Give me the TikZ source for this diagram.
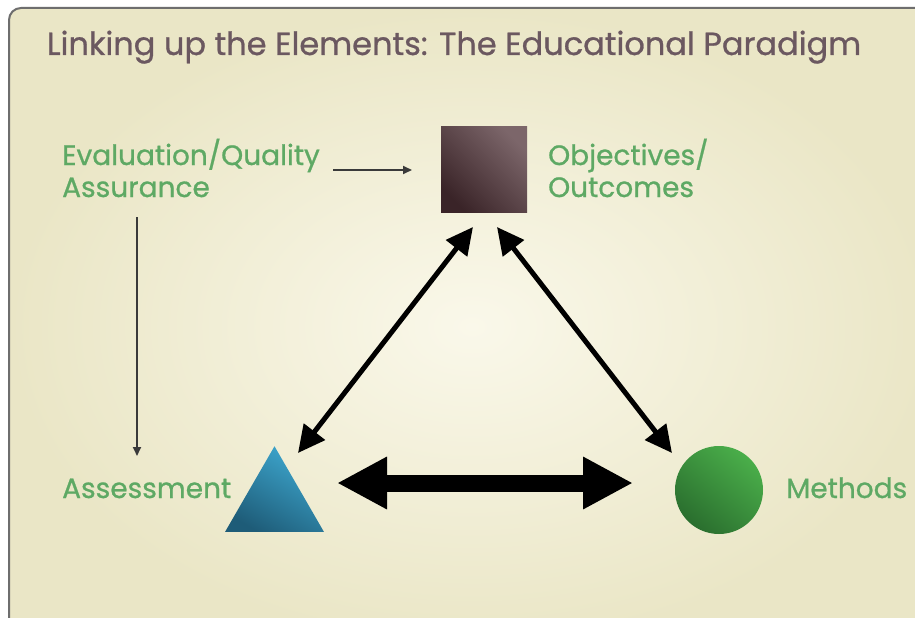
\documentclass[tikz,border=0pt]{standalone}
\usepackage{fontspec}
\setmainfont{Poppins}
\newfontfamily\titlefont[FakeStretch=1.0,FakeBold=0.8]{Poppins}
\newfontfamily\labelfont[FakeStretch=1.0,FakeBold=0.8]{Poppins}
\usetikzlibrary{arrows.meta,shapes.geometric}
\definecolor{bgin}{HTML}{FAF8EA}
\definecolor{bgout}{HTML}{EAE6C6}
\definecolor{frame}{HTML}{6E6E6E}
\definecolor{titlec}{HTML}{6B5860}
\definecolor{labelc}{HTML}{5EA964}
\definecolor{sqlight}{HTML}{7C666A}
\definecolor{sqdark}{HTML}{3A2428}
\definecolor{trilight}{HTML}{3EA8D0}
\definecolor{tridark}{HTML}{1E5C78}
\definecolor{cirlight}{HTML}{4AAE4A}
\definecolor{cirdark}{HTML}{2A6E2E}
\definecolor{thinc}{HTML}{3A3A3A}
\tikzset{
  lbl/.style={font=\labelfont\fontsize{28}{32}\selectfont, text=labelc, inner sep=0pt, anchor=base west},
  thinarrow/.style={draw=thinc, line width=2pt, -{Triangle[length=9pt,width=8pt]}},
  diagarrow/.style={draw=black, line width=5pt, {Triangle[length=27pt,width=26pt]}-{Triangle[length=27pt,width=26pt]}},
  bigarrow/.style={draw=black, line width=17pt, {Triangle[length=50pt,width=49pt]}-{Triangle[length=50pt,width=49pt]}},
}
\begin{document}
\begin{tikzpicture}[x=1pt,y=-1pt]
\useasboundingbox (0,0) rectangle (915,618);
\fill[white] (0,0) rectangle (915,618);
\shade[inner color=bgin, outer color=bgout, rounded corners=12pt] (9,8) rectangle (935,645);
\draw[frame, line width=2pt, rounded corners=12pt] (935,8) -- (9,8) -- (9,645);

\node[font=\titlefont\fontsize{32}{36}\selectfont, text=titlec, inner sep=0pt, anchor=base] (title) at (454,55) {Linking up the Elements: The Educational Paradigm};

\node[lbl] (eval) at (62,165) {\begin{tabular}[t]{@{}l@{}}Evaluation/Quality\\Assurance\end{tabular}};
\node[lbl] (obj) at (548,165) {\begin{tabular}[t]{@{}l@{}}Objectives/\\Outcomes\end{tabular}};
\node[lbl] (assess) at (62,498) {Assessment};
\node[lbl] (meth) at (786,498) {Methods};

\node[rectangle, minimum size=86pt, inner sep=0pt, top color=sqlight, bottom color=sqdark, shading angle=-45] (square) at (484,169.5) {};
\node[regular polygon, regular polygon sides=3, minimum size=114.3pt, inner sep=0pt, top color=trilight, bottom color=tridark, shading angle=-30] (tri) at (274.5,503.4) {};
\node[circle, minimum size=88pt, inner sep=0pt, top color=cirlight, bottom color=cirdark, shading angle=-40] (circ) at (719,490) {};

\coordinate (h1) at (333,170);
\coordinate (h2) at (412,170);
\coordinate (v1) at (137,217);
\coordinate (v2) at (137,456);
\coordinate (l1) at (298,453);
\coordinate (l2) at (473,227);
\coordinate (r1) at (497,227);
\coordinate (r2) at (672,453);
\coordinate (b1) at (337,483);
\coordinate (b2) at (633,483);

\draw[thinarrow] (h1) -- (h2);
\draw[thinarrow] (v1) -- (v2);
\draw[diagarrow] (l1) -- (l2);
\draw[diagarrow] (r1) -- (r2);
\draw[bigarrow] (b1) -- (b2);
\end{tikzpicture}
\end{document}
